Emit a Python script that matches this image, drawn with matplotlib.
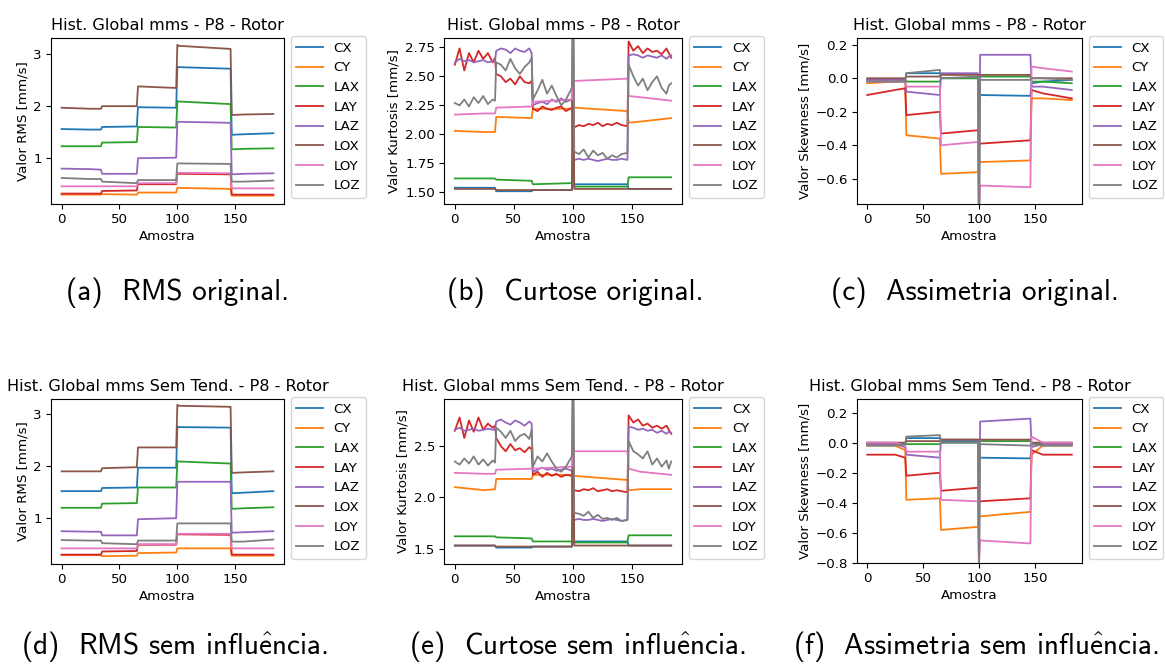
import matplotlib
matplotlib.use("Agg")
import matplotlib.pyplot as plt

plt.rcParams["mathtext.fontset"] = "cm"

# ---------------- data ----------------
series = ["CX", "CY", "LAX", "LAY", "LAZ", "LOX", "LOY", "LOZ"]
# sample positions of the read-off points (segment starts/ends, spike at 100)
samples = [0, 25, 34, 35, 65, 66, 99, 100, 101, 146, 147, 157, 183]
# denser sample positions for the noisiest kurtosis traces
samples_fine = [0, 4, 8, 12, 16, 20, 24, 28, 32, 34,
                35, 39, 43, 47, 51, 55, 59, 63, 65,
                66, 70, 74, 78, 82, 86, 90, 94, 99,
                100,
                101, 105, 109, 113, 117, 121, 125, 129, 133, 137, 141, 146,
                147, 151, 155, 159, 163, 167, 171, 175, 179, 181, 183]

rms_orig = {
    "CX":  [1.56, 1.55, 1.55, 1.60, 1.61, 1.98, 1.97, 2.76, 2.75, 2.72, 1.45, 1.46, 1.48],
    "CY":  [0.30, 0.30, 0.30, 0.31, 0.30, 0.34, 0.34, 0.43, 0.43, 0.41, 0.28, 0.28, 0.28],
    "LAX": [1.23, 1.23, 1.23, 1.30, 1.31, 1.60, 1.59, 2.10, 2.09, 2.04, 1.17, 1.18, 1.19],
    "LAY": [0.32, 0.32, 0.32, 0.37, 0.38, 0.50, 0.50, 0.70, 0.70, 0.69, 0.30, 0.30, 0.30],
    "LAZ": [0.80, 0.79, 0.78, 0.70, 0.70, 1.00, 1.01, 1.70, 1.70, 1.68, 0.69, 0.70, 0.71],
    "LOX": [1.97, 1.95, 1.95, 2.00, 2.00, 2.38, 2.35, 3.18, 3.16, 3.10, 1.83, 1.84, 1.85],
    "LOY": [0.46, 0.46, 0.46, 0.46, 0.46, 0.52, 0.52, 0.72, 0.72, 0.71, 0.42, 0.42, 0.42],
    "LOZ": [0.62, 0.60, 0.60, 0.55, 0.52, 0.58, 0.58, 0.90, 0.90, 0.89, 0.55, 0.55, 0.57],
}
rms_clean = {
    "CX":  [1.52, 1.52, 1.52, 1.58, 1.59, 1.97, 1.97, 2.76, 2.75, 2.74, 1.48, 1.49, 1.52],
    "CY":  [0.29, 0.29, 0.29, 0.27, 0.28, 0.33, 0.34, 0.42, 0.42, 0.42, 0.28, 0.28, 0.28],
    "LAX": [1.20, 1.20, 1.20, 1.28, 1.29, 1.59, 1.59, 2.10, 2.09, 2.05, 1.18, 1.19, 1.21],
    "LAY": [0.30, 0.30, 0.30, 0.36, 0.37, 0.49, 0.49, 0.69, 0.69, 0.68, 0.30, 0.30, 0.30],
    "LAZ": [0.75, 0.74, 0.74, 0.67, 0.67, 0.98, 1.00, 1.70, 1.70, 1.70, 0.72, 0.73, 0.75],
    "LOX": [1.90, 1.90, 1.90, 1.96, 1.98, 2.36, 2.36, 3.18, 3.16, 3.14, 1.87, 1.88, 1.90],
    "LOY": [0.42, 0.42, 0.42, 0.42, 0.42, 0.50, 0.50, 0.70, 0.70, 0.70, 0.42, 0.42, 0.42],
    "LOZ": [0.58, 0.57, 0.57, 0.52, 0.50, 0.57, 0.57, 0.90, 0.90, 0.90, 0.55, 0.55, 0.59],
}
kurt_orig = {
    "CX":  [1.54, 1.54, 1.54, 1.51, 1.51, 1.52, 1.52, 1.57, 1.57, 1.57, 1.53, 1.53, 1.53],
    "CY":  [2.03, 2.02, 2.02, 2.15, 2.14, 2.22, 2.22, 2.23, 2.23, 2.20, 2.10, 2.11, 2.14],
    "LAX": [1.62, 1.62, 1.62, 1.61, 1.60, 1.57, 1.58, 1.78, 1.55, 1.55, 1.63, 1.63, 1.63],
    "LAY": [2.60, 2.74, 2.55, 2.70, 2.62, 2.72, 2.65, 2.70, 2.62, 2.66,
            2.52, 2.50, 2.45, 2.48, 2.43, 2.50, 2.45, 2.44, 2.46,
            2.22, 2.20, 2.24, 2.22, 2.21, 2.23, 2.24, 2.20, 2.23,
            2.20,
            2.06, 2.08, 2.07, 2.09, 2.08, 2.10, 2.07, 2.09, 2.08, 2.10, 2.08, 2.07,
            2.80, 2.72, 2.76, 2.70, 2.74, 2.71, 2.72, 2.69, 2.74, 2.70, 2.66],
    "LAZ": [2.62, 2.65, 2.63, 2.64, 2.62, 2.63, 2.64, 2.62, 2.63, 2.63,
            2.72, 2.74, 2.73, 2.70, 2.74, 2.72, 2.71, 2.74, 2.70,
            2.25, 2.27, 2.28, 2.26, 2.30, 2.28, 2.31, 2.28, 2.30,
            1.78,
            1.78, 1.79, 1.78, 1.79, 1.78, 1.77, 1.78, 1.79, 1.78, 1.78, 1.79, 1.78,
            2.68, 2.69, 2.68, 2.66, 2.68, 2.67, 2.66, 2.68, 2.65, 2.67, 2.68],
    "LOX": [1.53, 1.53, 1.53, 1.52, 1.52, 1.52, 1.52, 3.50, 1.53, 1.53, 1.53, 1.53, 1.53],
    "LOY": [2.17, 2.18, 2.18, 2.23, 2.24, 2.28, 2.30, 2.46, 2.46, 2.48, 2.33, 2.32, 2.29],
    "LOZ": [2.27, 2.25, 2.30, 2.24, 2.32, 2.27, 2.33, 2.26, 2.30, 2.29,
            2.62, 2.60, 2.55, 2.65, 2.57, 2.52, 2.58, 2.62, 2.66,
            2.30, 2.38, 2.47, 2.35, 2.42, 2.33, 2.25, 2.30, 2.40,
            3.50,
            1.85, 1.83, 1.87, 1.80, 1.86, 1.82, 1.84, 1.79, 1.82, 1.80, 1.83, 1.84,
            2.60, 2.50, 2.42, 2.48, 2.38, 2.45, 2.50, 2.40, 2.35, 2.42, 2.44],
}
kurt_clean = {
    "CX":  [1.53, 1.53, 1.53, 1.51, 1.51, 1.52, 1.52, 1.57, 1.57, 1.57, 1.53, 1.53, 1.53],
    "CY":  [2.10, 2.07, 2.08, 2.18, 2.18, 2.22, 2.22, 2.21, 2.21, 2.17, 2.07, 2.08, 2.08],
    "LAX": [1.62, 1.62, 1.62, 1.61, 1.60, 1.57, 1.57, 1.78, 1.56, 1.56, 1.63, 1.63, 1.63],
    "LAY": [2.65, 2.78, 2.58, 2.75, 2.64, 2.78, 2.66, 2.72, 2.68, 2.70,
            2.58, 2.50, 2.45, 2.52, 2.46, 2.48, 2.44, 2.49, 2.47,
            2.22, 2.25, 2.20, 2.24, 2.21, 2.23, 2.20, 2.22, 2.21,
            2.22,
            2.07, 2.06, 2.08, 2.07, 2.09, 2.06, 2.07, 2.08, 2.06, 2.07, 2.06, 2.05,
            2.80, 2.73, 2.76, 2.70, 2.72, 2.68, 2.70, 2.67, 2.70, 2.66, 2.62],
    "LAZ": [2.66, 2.68, 2.65, 2.66, 2.67, 2.65, 2.66, 2.67, 2.66, 2.66,
            2.74, 2.76, 2.73, 2.71, 2.75, 2.73, 2.70, 2.74, 2.72,
            2.25, 2.27, 2.29, 2.27, 2.28, 2.26, 2.27, 2.28, 2.26,
            1.78,
            1.78, 1.79, 1.78, 1.78, 1.79, 1.78, 1.77, 1.78, 1.79, 1.78, 1.77, 1.78,
            2.69, 2.68, 2.66, 2.67, 2.65, 2.66, 2.63, 2.65, 2.62, 2.64, 2.63],
    "LOX": [1.53, 1.53, 1.53, 1.52, 1.52, 1.52, 1.52, 3.50, 1.53, 1.53, 1.53, 1.53, 1.53],
    "LOY": [2.24, 2.23, 2.23, 2.27, 2.28, 2.28, 2.30, 2.45, 2.45, 2.45, 2.28, 2.25, 2.22],
    "LOZ": [2.35, 2.32, 2.38, 2.33, 2.40, 2.32, 2.37, 2.31, 2.36, 2.34,
            2.68, 2.64, 2.58, 2.65, 2.55, 2.60, 2.62, 2.57, 2.66,
            2.30, 2.40, 2.35, 2.43, 2.35, 2.28, 2.25, 2.30, 2.40,
            3.50,
            1.85, 1.84, 1.82, 1.86, 1.80, 1.83, 1.79, 1.80, 1.78, 1.80, 1.77, 1.78,
            2.55, 2.45, 2.42, 2.38, 2.45, 2.32, 2.38, 2.30, 2.36, 2.28, 2.35],
}
skew_orig = {
    "CX":  [-0.01, -0.01, -0.01, 0.03, 0.03, 0.00, 0.00, -0.10, -0.10, -0.105, -0.03, -0.02, -0.01],
    "CY":  [-0.03, -0.02, -0.02, -0.34, -0.36, -0.57, -0.56, -0.50, -0.50, -0.49, -0.12, -0.12, -0.13],
    "LAX": [-0.01, -0.01, -0.01, -0.02, -0.02, 0.00, 0.00, 0.01, 0.01, 0.01, -0.02, -0.02, -0.03],
    "LAY": [-0.10, -0.07, -0.06, -0.22, -0.20, -0.33, -0.31, -0.39, -0.39, -0.37, -0.07, -0.09, -0.12],
    "LAZ": [-0.01, -0.01, -0.01, -0.08, -0.10, 0.03, 0.03, -1.00, 0.14, 0.14, -0.05, -0.05, -0.07],
    "LOX": [0.00, 0.00, 0.00, 0.01, 0.01, 0.02, 0.02, 0.02, 0.02, 0.02, 0.00, 0.00, 0.00],
    "LOY": [-0.02, -0.02, -0.02, -0.05, -0.05, -0.40, -0.38, -0.80, -0.64, -0.65, 0.07, 0.06, 0.04],
    "LOZ": [-0.02, -0.02, -0.02, 0.03, 0.05, 0.00, 0.01, -1.00, -0.01, -0.01, 0.00, 0.00, -0.01],
}
skew_clean = {
    "CX":  [-0.01, -0.01, -0.01, 0.03, 0.03, 0.01, 0.01, -0.10, -0.10, -0.105, -0.01, -0.01, -0.01],
    "CY":  [-0.02, -0.02, -0.05, -0.38, -0.37, -0.58, -0.56, -0.49, -0.49, -0.46, -0.08, -0.02, -0.02],
    "LAX": [-0.01, -0.01, -0.01, -0.01, -0.01, 0.00, 0.00, 0.01, 0.01, 0.01, -0.01, -0.01, -0.01],
    "LAY": [-0.08, -0.08, -0.10, -0.22, -0.20, -0.32, -0.30, -0.39, -0.39, -0.37, -0.05, -0.08, -0.08],
    "LAZ": [-0.01, -0.01, -0.03, -0.08, -0.10, 0.02, 0.02, -0.90, 0.14, 0.16, -0.03, -0.01, -0.01],
    "LOX": [0.00, 0.00, 0.00, 0.01, 0.01, 0.02, 0.02, 0.02, 0.02, 0.02, 0.00, 0.00, 0.00],
    "LOY": [0.00, 0.00, -0.02, -0.06, -0.06, -0.38, -0.39, -0.80, -0.65, -0.67, 0.04, 0.00, 0.00],
    "LOZ": [-0.02, -0.02, -0.01, 0.04, 0.05, 0.00, 0.00, -0.90, -0.01, -0.02, -0.01, -0.02, -0.02],
}

title_top = "Hist. Global mms - P8 - Rotor"
title_bot = "Hist. Global mms Sem Tend. - P8 - Rotor"
e_hat = r"$\hat{\mathsf{e}}$"
captions = ["(a)  RMS original.", "(b)  Curtose original.", "(c)  Assimetria original.",
            "(d)  RMS sem influ" + e_hat + "ncia.",
            "(e)  Curtose sem influ" + e_hat + "ncia.",
            "(f)  Assimetria sem influ" + e_hat + "ncia."]

# ---------------- layout ----------------
W, H = 1165, 664
fig = plt.figure(figsize=(W / 100, H / 100), dpi=100)

def rect(l, r, t, b):
    return [l / W, 1 - b / H, (r - l) / W, (b - t) / H]

panels = [
    (rect(51, 284, 38, 204), rms_orig, title_top, "Valor RMS [mm/s]", (0.12, 3.31), [1, 2, 3], "%g"),
    (rect(444, 682, 38, 204), kurt_orig, title_top, "Valor Kurtosis [mm/s]", (1.40, 2.83),
     [1.50, 1.75, 2.00, 2.25, 2.50, 2.75], "%.2f"),
    (rect(857, 1082, 38, 204), skew_orig, title_top, "Valor Skewness [mm/s]", (-0.75, 0.24),
     [-0.6, -0.4, -0.2, 0.0, 0.2], "%.1f"),
    (rect(51, 284, 399, 564), rms_clean, title_bot, "Valor RMS [mm/s]", (0.12, 3.29), [1, 2, 3], "%g"),
    (rect(444, 682, 399, 564), kurt_clean, title_bot, "Valor Kurtosis [mm/s]", (1.35, 2.96),
     [1.5, 2.0, 2.5], "%.1f"),
    (rect(857, 1082, 399, 563), skew_clean, title_bot, "Valor Skewness [mm/s]", (-0.80, 0.29),
     [-0.8, -0.6, -0.4, -0.2, 0.0, 0.2], "%.1f"),
]

colors = plt.rcParams["axes.prop_cycle"].by_key()["color"]
fs = 9.6

for (pos, data, ttl, ylab, ylim, yt, fmt) in panels:
    ax = fig.add_axes(pos)
    for i, s in enumerate(series):
        ys = data[s]
        xs = samples_fine if len(ys) == len(samples_fine) else samples
        ax.plot(xs, ys, color=colors[i], lw=1.3, label=s)
    ax.set_xlim(-9.15, 192.15)
    ax.set_ylim(*ylim)
    ax.set_xticks([0, 50, 100, 150])
    ax.set_yticks(yt)
    ax.set_yticklabels([(fmt % v).replace("-", "\u2212") for v in yt])
    ax.tick_params(labelsize=fs, length=3.5, pad=3)
    ax.set_title(ttl, fontsize=11.6, pad=6)
    ax.set_xlabel("Amostra", fontsize=fs, labelpad=3)
    ax.set_ylabel(ylab, fontsize=fs, labelpad=3)
    ax.legend(loc="upper left", bbox_to_anchor=(1.03, 1.01), fontsize=fs,
              handlelength=2.0, labelspacing=0.5, borderaxespad=0.0)

cap_pos = [(178, 293), (575, 293), (975, 293), (174, 647), (577, 647), (976, 647)]
for (cx, cy), txt in zip(cap_pos, captions):
    fig.text(cx / W, 1 - cy / H, txt, ha="center", va="center", fontsize=21,
             family=["cmss10", "DejaVu Sans"])

fig.savefig("out.png", dpi=100)
